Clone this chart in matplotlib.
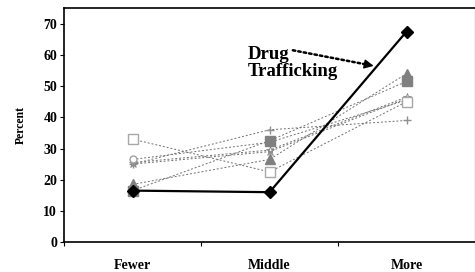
import matplotlib
matplotlib.use("Agg")
import matplotlib.pyplot as plt
from matplotlib.ticker import FixedLocator, NullFormatter

categories = ["Fewer", "Middle", "More"]
yticks = [0, 10, 20, 30, 40, 50, 60, 70]

drug = [16.5, 16, 67.5]
open_square = [33, 22.5, 45]
filled_square = [16.5, 32.5, 51.5]
triangle = [18.5, 26.5, 54]
circle = [26.5, 32, 45.5]
cross = [25, 29, 46]
star = [25.5, 29.5, 46.5]
plus = [25, 36, 39]

serif = ["Liberation Serif", "DejaVu Serif"]

fig = plt.figure(figsize=(4.75, 2.72), dpi=100)
ax = fig.add_axes([0.135, 0.11, 0.865, 0.86])

x = range(len(categories))
dash = dict(linestyle=(0, (2, 2)), linewidth=0.7, color="#707070")
ax.plot(x, plus, marker="+", ms=6, mec="#909090", **dash)
ax.plot(x, star, marker="*", ms=6, mfc="none", mec="#808080", mew=0.6, **dash)
ax.plot(x, cross, marker="x", ms=5, mec="#909090", **dash)
ax.plot(x, circle, marker="o", ms=5, mfc="white", mec="#a0a0a0", **dash)
ax.plot(x, open_square, marker="s", ms=7, mfc="white", mec="#a8a8a8", **dash)
ax.plot(x, filled_square, marker="s", ms=7, mfc="#808080", mec="#808080", **dash)
ax.plot(x, triangle, marker="^", ms=7, mfc="#808080", mec="#808080", **dash)
ax.plot(x, drug, color="black", linewidth=1.6, marker="D", ms=6, mfc="black", zorder=5)

ax.set_xlim(-0.5, 2.5)
ax.set_ylim(0, 75)
ax.set_yticks(yticks)
ax.set_yticklabels([str(t) for t in yticks], fontfamily=serif, fontweight="bold", fontsize=10)
ax.tick_params(axis="y", direction="out", length=3, width=0.8, pad=2)

ax.xaxis.set_major_locator(FixedLocator([-0.5, 0.5, 1.5, 2.5]))
ax.xaxis.set_major_formatter(NullFormatter())
ax.xaxis.set_minor_locator(FixedLocator(list(x)))
ax.set_xticklabels(categories, minor=True, fontfamily=serif, fontweight="bold", fontsize=10)
ax.tick_params(axis="x", which="minor", length=0, pad=12)
ax.tick_params(axis="x", which="major", direction="out", length=3, width=0.8)

ax.set_ylabel("Percent", fontfamily=serif, fontweight="bold", fontsize=8.5, labelpad=12)
for side in ["left", "bottom", "top"]:
    ax.spines[side].set_linewidth(1.2)

# label with a dotted pointer and a solid head
ax.text(0.84, 52, "Drug\nTrafficking", fontfamily=serif, fontweight="bold",
        fontsize=13.5, ha="left", va="bottom", linespacing=1.0)
ax.annotate("", xy=(1.70, 57.0), xytext=(1.17, 61.5),
            arrowprops=dict(arrowstyle="-", linestyle=(0, (1, 1.2)), lw=1.8,
                            color="black", shrinkA=0, shrinkB=0))
ax.annotate("", xy=(1.76, 56.5), xytext=(1.68, 57.2),
            arrowprops=dict(arrowstyle="-|>", lw=1.0, color="black",
                            mutation_scale=14, shrinkA=0, shrinkB=0))

fig.savefig("out.png", dpi=100)
